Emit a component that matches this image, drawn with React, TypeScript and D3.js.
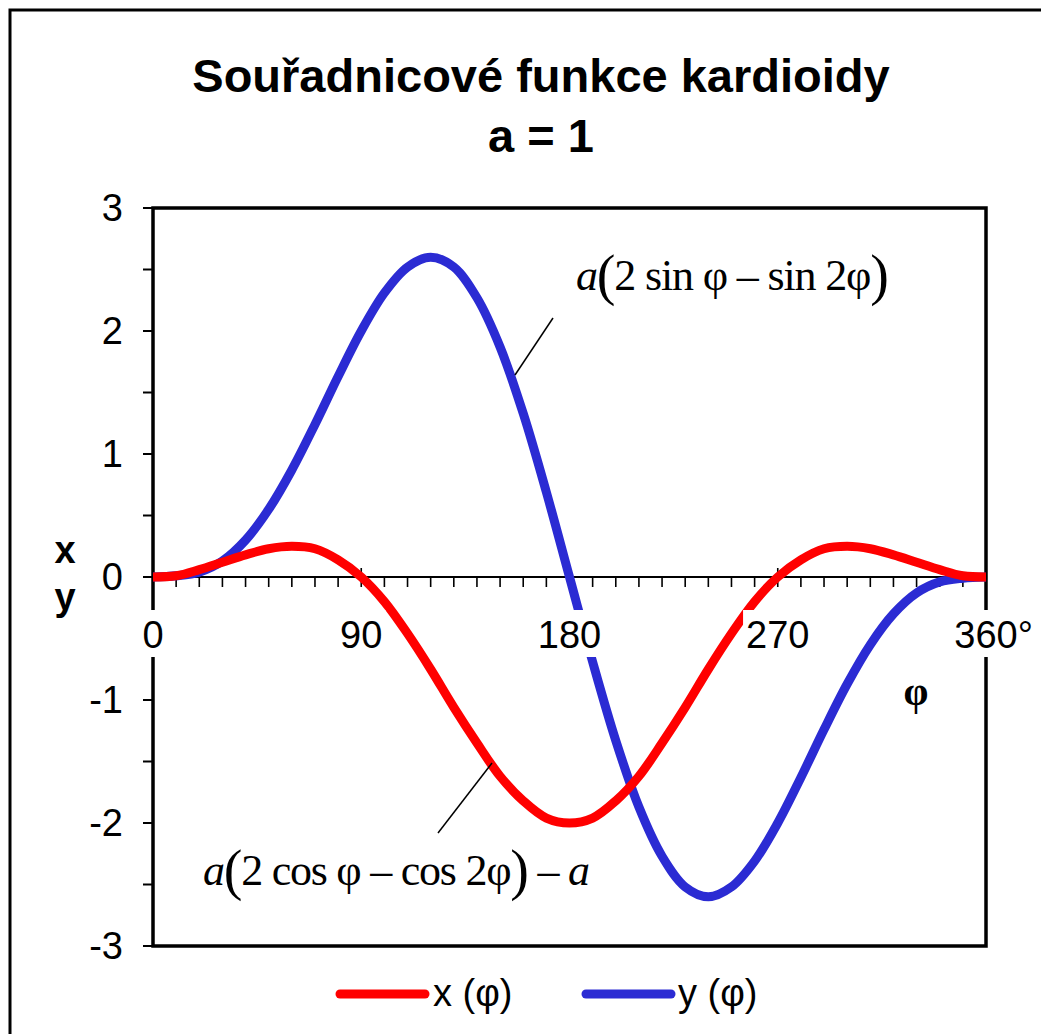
import React from "react";
import * as d3 from "d3";

const phiDeg = [0,10,20,30,40,50,60,70,80,90,100,110,120,130,140,150,160,170,180,190,200,210,220,230,240,250,260,270,280,290,300,310,320,330,340,350,360];
const xSeries = [0,0.01,0.06,0.12,0.18,0.23,0.25,0.23,0.14,0,-0.2,-0.46,-0.75,-1.06,-1.35,-1.62,-1.82,-1.96,-2,-1.96,-1.82,-1.62,-1.35,-1.06,-0.75,-0.46,-0.2,0,0.14,0.23,0.25,0.23,0.18,0.12,0.06,0.01,0];
const ySeries = [0,0.01,0.04,0.13,0.3,0.55,0.87,1.24,1.63,2,2.31,2.52,2.6,2.52,2.27,1.87,1.33,0.69,0,-0.69,-1.33,-1.87,-2.27,-2.52,-2.6,-2.52,-2.31,-2,-1.63,-1.24,-0.87,-0.55,-0.3,-0.13,-0.04,-0.01,0];
const xTickLabels = ["0", "90", "180", "270", "360°"];
const xTickValues = [0, 90, 180, 270, 360];
const yTickValues = [3, 2, 1, 0, -1, -2, -3];
const yTickLabels = ["3", "2", "1", "0", "-1", "-2", "-3"];
const seriesNames = ["x (φ)", "y (φ)"];
const title1 = "Souřadnicové funkce kardioidy";
const title2 = "a = 1";

const SANS = "'Liberation Sans', Arial, sans-serif";
const SERIF = "'Liberation Serif', 'Times New Roman', serif";
const RED = "#ff0000";
const BLUE = "#2b2bd3";

export default function App() {
  const x = d3.scaleLinear().domain([0, 360]).range([153, 986]);
  const y = d3.scaleLinear().domain([-3, 3]).range([946, 208]);
  const y0 = y(0);

  const line = (vals: number[]) =>
    d3
      .line<number>()
      .x((_, i) => x(phiDeg[i]))
      .y((v) => y(v))
      .curve(d3.curveCatmullRom)(vals) as string;

  const minorX = d3.range(10, 360, 10).filter((v) => v % 90 !== 0);
  const majorX = [90, 180, 270];
  const yTicks = d3.range(-3, 3.01, 0.5);

  const fs = 38;

  return (
    <svg
      width={1041}
      height={1034}
      style={{ position: "absolute", left: 0, top: 0, background: "#fff" }}
    >
      <rect x={0} y={0} width={1041} height={1034} fill="#fff" />
      <rect x={10} y={10} width={1100} height={1100} fill="none" stroke="#000" strokeWidth={3} />

      <text x={541} y={92} textAnchor="middle" fontFamily={SANS} fontWeight="bold" fontSize={47}>
        {title1}
      </text>
      <text x={541} y={152} textAnchor="middle" fontFamily={SANS} fontWeight="bold" fontSize={47}>
        {title2}
      </text>

      {/* plot frame */}
      <rect x={x(0)} y={y(3)} width={x(360) - x(0)} height={y(-3) - y(3)} fill="none" stroke="#000" strokeWidth={3.5} />

      {/* y ticks */}
      {yTicks.map((v) => (
        <line key={"yt" + v} x1={x(0) - 10} x2={x(0)} y1={y(v)} y2={y(v)} stroke="#000" strokeWidth={2} />
      ))}
      {/* x axis */}
      <line x1={x(0) - 10} x2={x(360)} y1={y0} y2={y0} stroke="#000" strokeWidth={2} />
      {minorX.map((v) => (
        <line key={"xm" + v} x1={x(v)} x2={x(v)} y1={y0} y2={y0 + 10} stroke="#000" strokeWidth={1.6} />
      ))}
      {majorX.map((v) => (
        <line key={"xM" + v} x1={x(v)} x2={x(v)} y1={y0 - 9} y2={y0 + 10} stroke="#000" strokeWidth={1.6} />
      ))}

      {/* curves */}
      <path d={line(ySeries)} fill="none" stroke={BLUE} strokeWidth={9} strokeLinejoin="round" />
      <path d={line(xSeries)} fill="none" stroke={RED} strokeWidth={9} strokeLinejoin="round" />

      {/* y tick labels */}
      {yTickValues.map((v, i) => (
        <text key={"yl" + v} x={123} y={y(v) + 13} textAnchor="end" fontFamily={SANS} fontSize={fs}>
          {yTickLabels[i]}
        </text>
      ))}

      {/* x tick labels with white boxes */}
      {xTickValues.map((v, i) => {
        const lbl = xTickLabels[i];
        const num = lbl.replace("°", "");
        const w = num.length * 0.556 * fs;
        const extra = lbl.length > num.length ? 0.4 * fs : 0;
        const left = x(v) - w / 2;
        return (
          <g key={"xl" + v}>
            <rect x={left - 3} y={610} width={w + extra + 6} height={47} fill="#fff" />
            <text x={left} y={648} fontFamily={SANS} fontSize={fs}>
              {lbl}
            </text>
          </g>
        );
      })}

      {/* axis labels */}
      <text x={65} y={563} textAnchor="middle" fontFamily={SANS} fontWeight="bold" fontSize={fs}>x</text>
      <text x={65} y={610} textAnchor="middle" fontFamily={SANS} fontWeight="bold" fontSize={fs}>y</text>
      <text x={916} y={705} textAnchor="middle" fontFamily={SERIF} fontWeight="bold" fontSize={40}>φ</text>

      {/* annotations */}
      <line x1={553} y1={318} x2={515} y2={375} stroke="#000" strokeWidth={1.5} />
      <text x={576} y={290} fontFamily={SERIF} fontSize={44} textLength={313} lengthAdjust="spacing">
        <tspan fontStyle="italic">a</tspan>
        <tspan fontSize={56} dy={4}>(</tspan>
        <tspan dy={-4}>2 sin φ – sin 2φ</tspan>
        <tspan fontSize={56} dy={4}>)</tspan>
      </text>

      <line x1={492} y1={763} x2={438} y2={833} stroke="#000" strokeWidth={1.5} />
      <text x={203} y={885} fontFamily={SERIF} fontSize={44} textLength={387} lengthAdjust="spacing">
        <tspan fontStyle="italic">a</tspan>
        <tspan fontSize={56} dy={4}>(</tspan>
        <tspan dy={-4}>2 cos φ – cos 2φ</tspan>
        <tspan fontSize={56} dy={4}>)</tspan>
        <tspan dy={-4}> – </tspan>
        <tspan fontStyle="italic">a</tspan>
      </text>

      {/* legend */}
      <line x1={340} x2={425} y1={994} y2={994} stroke={RED} strokeWidth={9} strokeLinecap="round" />
      <text x={433} y={1006} fontFamily={SANS} fontSize={38}>{seriesNames[0]}</text>
      <line x1={586} x2={671} y1={994} y2={994} stroke={BLUE} strokeWidth={9} strokeLinecap="round" />
      <text x={678} y={1006} fontFamily={SANS} fontSize={38}>{seriesNames[1]}</text>
    </svg>
  );
}
